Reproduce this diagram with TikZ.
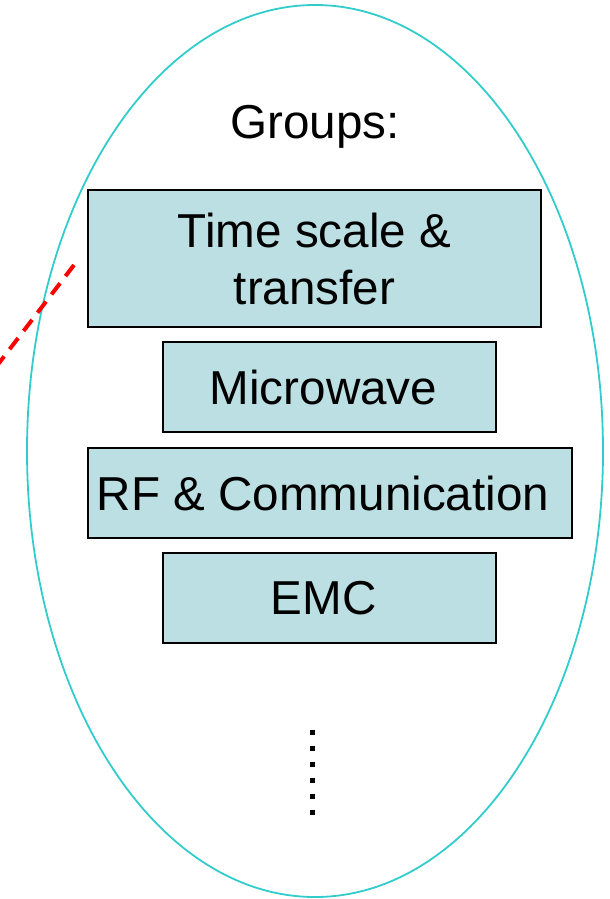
\documentclass[tikz,border=0pt]{standalone}
\usepackage{fontspec}
\usetikzlibrary{shapes.geometric}
\setmainfont{Liberation Sans}
\definecolor{boxfill}{HTML}{BBDFE2}
\definecolor{ellcol}{HTML}{33CCCC}
\begin{document}
\begin{tikzpicture}[x=1pt,y=-1pt,
  grpbox/.style={draw=black,line width=2pt,fill=boxfill,inner sep=0pt,font=\fontsize{47.6}{57}\selectfont,align=center},
  grptext/.style={font=\fontsize{47.6}{57}\selectfont,inner sep=0pt}]
\useasboundingbox (0,0) rectangle (610,899);
\node[draw=ellcol,line width=1.8pt,ellipse,minimum width=576pt,minimum height=892pt,inner sep=0pt] (ell) at (315,451) {};
\node[grptext] (groups) at (315,127) {Groups:};
\node[grpbox,minimum width=453pt,minimum height=137pt] (ts) at (314.5,258.5) {Time scale \&\\transfer};
\node[grpbox,minimum width=333pt,minimum height=90pt] (mw) at (329.5,387) {};
\node[grptext] (mwt) at ([xshift=-6pt]mw.center) {Microwave};
\node[grpbox,minimum width=484pt,minimum height=90pt] (rf) at (330,493) {};
\node[grptext] (rft) at ([xshift=-7pt]rf.center) {RF \& Communication};
\node[grpbox,minimum width=333pt,minimum height=90pt] (emc) at (329.5,598) {};
\node[grptext] (emct) at ([xshift=-6pt]emc.center) {EMC};
\coordinate (d1) at (312,729.5);
\coordinate (d2) at (312,816);
\draw[line width=5pt,dash pattern=on 5pt off 11pt] (d1) -- (d2);
\coordinate (r1) at (-4,367);
\coordinate (r2) at (74,265);
\draw[red,line width=4pt,dash pattern=on 14pt off 9pt] (r2) -- (r1);
\end{tikzpicture}
\end{document}
